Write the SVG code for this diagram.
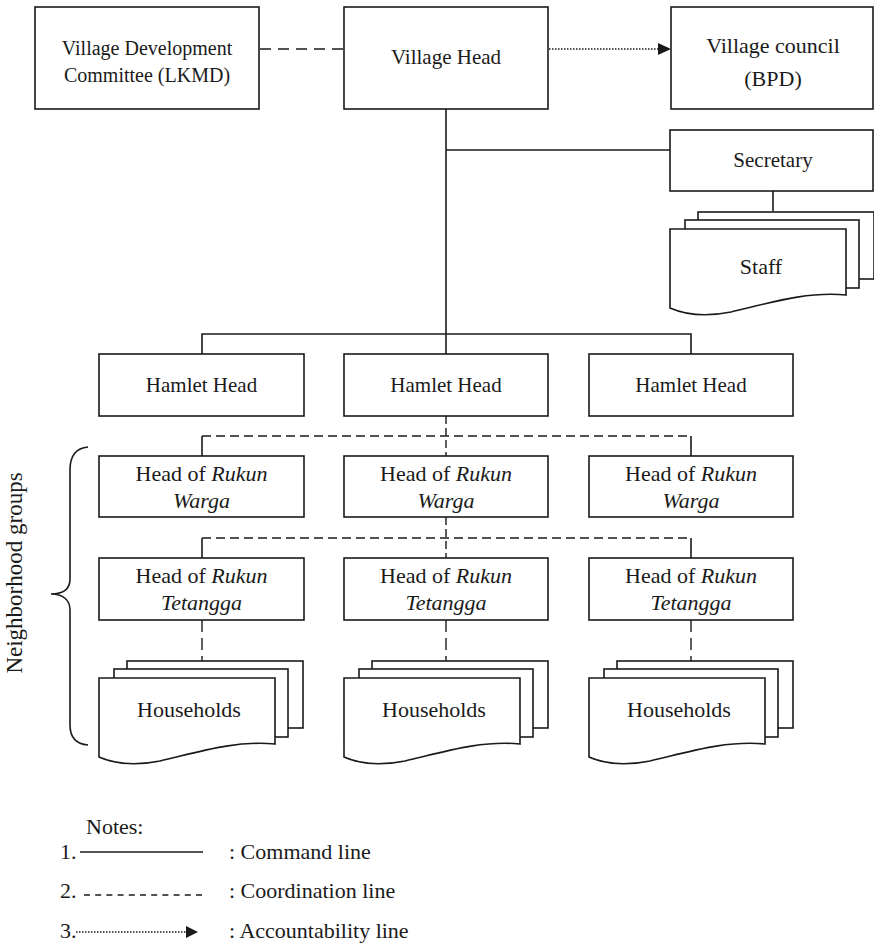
<svg xmlns="http://www.w3.org/2000/svg" width="874" height="945" viewBox="0 0 874 945">
<defs>
<style>
.box{fill:#fff;stroke:#1a1a1a;stroke-width:1.6}
.t{font-family:"Liberation Serif","Times New Roman",serif;fill:#1a1a1a;text-anchor:middle}
.tl{font-family:"Liberation Serif","Times New Roman",serif;fill:#1a1a1a}
.cmd{fill:none;stroke:#1a1a1a;stroke-width:1.6}
.coord{fill:none;stroke:#1a1a1a;stroke-width:1.6;stroke-dasharray:9 5}
.coordv{fill:none;stroke:#1a1a1a;stroke-width:1.4;stroke-dasharray:8 4}
.acc{fill:none;stroke:#1a1a1a;stroke-width:1.3;stroke-dasharray:1.5 1.5}
</style>
<g id="docstack">
<rect class="box" x="127" y="661" width="176" height="67"/>
<rect class="box" x="114" y="669" width="174" height="68"/>
<path class="box" d="M99,678 H275 V744 C235,740 195,753 160,761 C135,766 115,764 99,757 Z"/>
</g>
</defs>
<rect width="874" height="945" fill="#fff"/>

<g id="connectors">
<line class="coord" x1="260" y1="49" x2="344" y2="49" style="stroke-dasharray:11 7"/>
<line class="acc" x1="549" y1="49" x2="659" y2="49"/>
<polygon points="658,43 671,49 658,55" fill="#1a1a1a"/>
<line class="cmd" x1="446" y1="109" x2="446" y2="354"/>
<line class="cmd" x1="446" y1="150" x2="670" y2="150"/>
<line class="cmd" x1="773" y1="191" x2="773" y2="211"/>
<polyline class="cmd" points="202,354 202,334 691,334 691,354"/>
<line class="coordv" x1="446" y1="416" x2="446" y2="456"/>
<line class="coord" x1="202" y1="436" x2="691" y2="436"/>
<line class="cmd" x1="202" y1="436" x2="202" y2="456"/>
<line class="cmd" x1="691" y1="436" x2="691" y2="456"/>
<line class="coordv" x1="446" y1="517" x2="446" y2="558"/>
<line class="coord" x1="202" y1="538" x2="691" y2="538"/>
<line class="cmd" x1="202" y1="538" x2="202" y2="558"/>
<line class="cmd" x1="691" y1="538" x2="691" y2="558"/>
<line class="coordv" x1="202" y1="620" x2="202" y2="661" style="stroke-dasharray:12 6"/>
<line class="coordv" x1="446" y1="620" x2="446" y2="661" style="stroke-dasharray:12 6"/>
<line class="coordv" x1="691" y1="620" x2="691" y2="661" style="stroke-dasharray:12 6"/>
</g>

<g id="lkmd">
<rect class="box" x="35" y="7" width="224" height="102"/>
<text class="t" x="147" y="55" font-size="20">Village Development</text>
<text class="t" x="147" y="82" font-size="20">Committee (LKMD)</text>
</g>
<g id="village-head">
<rect class="box" x="344" y="7" width="204" height="102"/>
<text class="t" x="446" y="64" font-size="21">Village Head</text>
</g>
<g id="village-council">
<rect class="box" x="671" y="7" width="202" height="102"/>
<text class="t" x="773" y="53" font-size="22">Village council</text>
<text class="t" x="773" y="86" font-size="22">(BPD)</text>
</g>
<g id="secretary">
<rect class="box" x="670" y="130" width="203" height="61"/>
<text class="t" x="773" y="167" font-size="21">Secretary</text>
</g>
<g id="staff">
<use href="#docstack" transform="translate(571,-449)"/>
<text class="t" x="761" y="274" font-size="22">Staff</text>
</g>

<g id="hamlet-1">
<rect class="box" x="99" y="354" width="205" height="62"/>
<text class="t" x="201.5" y="392" font-size="21">Hamlet Head</text>
</g>
<g id="hamlet-2">
<rect class="box" x="344" y="354" width="204" height="62"/>
<text class="t" x="446" y="392" font-size="21">Hamlet Head</text>
</g>
<g id="hamlet-3">
<rect class="box" x="589" y="354" width="204" height="62"/>
<text class="t" x="691" y="392" font-size="21">Hamlet Head</text>
</g>

<g id="rw-1">
<rect class="box" x="99" y="456" width="205" height="61"/>
<text class="t" x="201.5" y="481" font-size="22">Head of <tspan font-style="italic">Rukun</tspan></text>
<text class="t" x="201.5" y="508" font-size="22" font-style="italic">Warga</text>
</g>
<g id="rw-2">
<rect class="box" x="344" y="456" width="204" height="61"/>
<text class="t" x="446" y="481" font-size="22">Head of <tspan font-style="italic">Rukun</tspan></text>
<text class="t" x="446" y="508" font-size="22" font-style="italic">Warga</text>
</g>
<g id="rw-3">
<rect class="box" x="589" y="456" width="204" height="61"/>
<text class="t" x="691" y="481" font-size="22">Head of <tspan font-style="italic">Rukun</tspan></text>
<text class="t" x="691" y="508" font-size="22" font-style="italic">Warga</text>
</g>

<g id="rt-1">
<rect class="box" x="99" y="558" width="205" height="62"/>
<text class="t" x="201.5" y="583" font-size="22">Head of <tspan font-style="italic">Rukun</tspan></text>
<text class="t" x="201.5" y="610" font-size="22" font-style="italic">Tetangga</text>
</g>
<g id="rt-2">
<rect class="box" x="344" y="558" width="204" height="62"/>
<text class="t" x="446" y="583" font-size="22">Head of <tspan font-style="italic">Rukun</tspan></text>
<text class="t" x="446" y="610" font-size="22" font-style="italic">Tetangga</text>
</g>
<g id="rt-3">
<rect class="box" x="589" y="558" width="204" height="62"/>
<text class="t" x="691" y="583" font-size="22">Head of <tspan font-style="italic">Rukun</tspan></text>
<text class="t" x="691" y="610" font-size="22" font-style="italic">Tetangga</text>
</g>

<g id="households-1">
<use href="#docstack"/>
<text class="t" x="189" y="717" font-size="22">Households</text>
</g>
<g id="households-2">
<use href="#docstack" transform="translate(245,0)"/>
<text class="t" x="434" y="717" font-size="22">Households</text>
</g>
<g id="households-3">
<use href="#docstack" transform="translate(490,0)"/>
<text class="t" x="679" y="717" font-size="22">Households</text>
</g>

<g id="neighborhood-groups">
<path class="cmd" d="M88,447 C76,448 70,456 70,470 L70,579 C70,589 63,594 51,594 C63,594 70,600 70,610 L70,725 C70,738 76,744 88,745"/>
<text class="t" transform="translate(22,573) rotate(-90)" font-size="23">Neighborhood groups</text>
</g>

<g id="legend">
<text class="tl" x="86" y="834" font-size="22">Notes:</text>
<text class="tl" x="60" y="859" font-size="22">1.</text>
<line class="cmd" x1="80" y1="852" x2="203" y2="852"/>
<text class="tl" x="229" y="859" font-size="22">: Command line</text>
<text class="tl" x="60" y="898" font-size="22">2.</text>
<line class="cmd" x1="84" y1="895" x2="207" y2="895" style="stroke-dasharray:6 5.2"/>
<text class="tl" x="229" y="898" font-size="22">: Coordination line</text>
<text class="tl" x="60" y="938" font-size="22">3.</text>
<line class="acc" x1="76" y1="932" x2="187" y2="932"/>
<polygon points="186,926 198,932 186,938" fill="#1a1a1a"/>
<text class="tl" x="229" y="938" font-size="22">: Accountability line</text>
</g>
</svg>
